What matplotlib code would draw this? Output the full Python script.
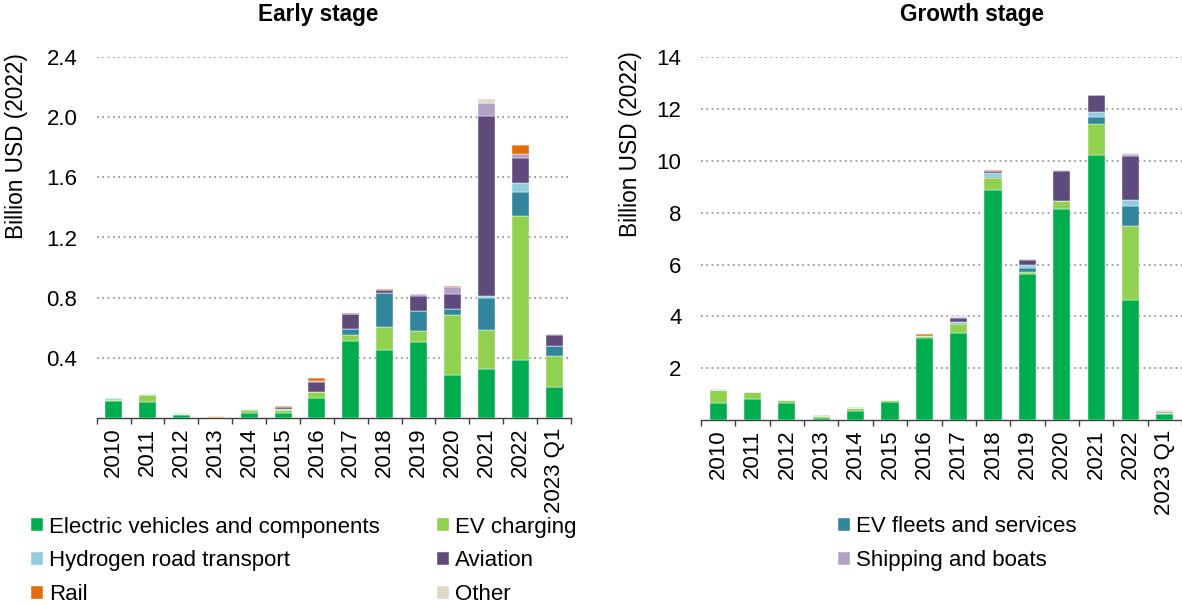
import numpy as np
import matplotlib
matplotlib.use("Agg")
import matplotlib.pyplot as plt
from matplotlib.ticker import FixedLocator, NullFormatter

plt.rcParams['font.family'] = ['Liberation Sans', 'DejaVu Sans']

periods = ["2010", "2011", "2012", "2013", "2014", "2015", "2016", "2017",
           "2018", "2019", "2020", "2021", "2022", "2023 Q1"]

series_names = ["Electric vehicles and components", "EV charging",
                "EV fleets and services", "Hydrogen road transport",
                "Aviation", "Shipping and boats", "Rail", "Other"]
series_colors = ["#00ae4f", "#92d050", "#31859c", "#92cddc",
                 "#604a7b", "#b2a2c7", "#e46c0a", "#ddd9c4"]

# Early stage, billion USD (2022)
early_ev = [0.113, 0.106, 0.020, 0.002, 0.033, 0.031, 0.130, 0.510, 0.454, 0.505, 0.286, 0.326, 0.383, 0.204]
early_charging = [0.007, 0.047, 0.009, 0.000, 0.018, 0.020, 0.045, 0.040, 0.151, 0.071, 0.397, 0.261, 0.962, 0.210]
early_fleets = [0.000, 0.000, 0.000, 0.000, 0.000, 0.005, 0.000, 0.044, 0.226, 0.138, 0.044, 0.213, 0.155, 0.065]
early_hydrogen = [0.010, 0.004, 0.000, 0.000, 0.006, 0.004, 0.000, 0.000, 0.003, 0.000, 0.000, 0.011, 0.060, 0.000]
early_aviation = [0.000, 0.000, 0.000, 0.000, 0.000, 0.015, 0.065, 0.100, 0.020, 0.100, 0.095, 1.197, 0.169, 0.071]
early_shipping = [0.005, 0.000, 0.000, 0.000, 0.000, 0.000, 0.005, 0.000, 0.000, 0.009, 0.049, 0.086, 0.026, 0.006]
early_rail = [0.000, 0.000, 0.000, 0.004, 0.000, 0.007, 0.018, 0.005, 0.005, 0.000, 0.009, 0.000, 0.062, 0.000]
early_other = [0.000, 0.000, 0.003, 0.004, 0.000, 0.000, 0.000, 0.000, 0.000, 0.000, 0.000, 0.025, 0.000, 0.000]

# Growth stage, billion USD (2022)
growth_ev = [0.67, 0.82, 0.67, 0.08, 0.36, 0.71, 3.15, 3.34, 8.87, 5.63, 8.14, 10.23, 4.63, 0.22]
growth_charging = [0.475, 0.26, 0.09, 0.06, 0.115, 0.05, 0.08, 0.36, 0.47, 0.09, 0.32, 1.20, 2.87, 0.04]
growth_fleets = [0, 0, 0, 0, 0, 0, 0, 0.04, 0.04, 0.13, 0, 0.28, 0.76, 0]
growth_hydrogen = [0, 0, 0, 0, 0, 0, 0, 0.05, 0.14, 0.13, 0, 0.16, 0.23, 0]
growth_aviation = [0, 0, 0, 0, 0, 0, 0, 0.16, 0.09, 0.21, 1.17, 0.68, 1.71, 0.03]
growth_shipping = [0.015, 0, 0, 0.04, 0, 0, 0.02, 0.03, 0, 0.02, 0.02, 0, 0.08, 0.06]
growth_rail = [0, 0, 0, 0, 0, 0, 0.06, 0, 0.04, 0, 0, 0, 0, 0]
growth_other = [0.02, 0.01, 0.01, 0, 0.025, 0, 0, 0.04, 0, 0, 0, 0, 0.03, 0.05]

early = [early_ev, early_charging, early_fleets, early_hydrogen,
         early_aviation, early_shipping, early_rail, early_other]
growth = [growth_ev, growth_charging, growth_fleets, growth_hydrogen,
          growth_aviation, growth_shipping, growth_rail, growth_other]

W, H = 1182, 606
fig = plt.figure(figsize=(W / 100, H / 100), dpi=100)


def px(x0, y0, x1, y1):
    """axes rect from pixel box (top-left origin)"""
    return [x0 / W, 1 - y1 / H, (x1 - x0) / W, (y1 - y0) / H]


def stacked(ax, data, ymax, yticks):
    x = np.arange(len(periods))
    bottom = np.zeros(len(periods))
    bars = []
    for vals, name, col in zip(data, series_names, series_colors):
        vals = np.array(vals, dtype=float)
        b = ax.bar(x, vals, width=0.5, bottom=bottom, color=col, label=name,
                   edgecolor="white", linewidth=0.3, zorder=3)
        bars.append(b)
        bottom += vals
    ax.set_xlim(-0.5, len(periods) - 0.5)
    ax.set_ylim(0, ymax)
    ax.set_yticks(yticks)
    ax.yaxis.grid(True, linestyle=(0, (1, 2.2)), color="#8a8a8a", linewidth=1.2, zorder=0)
    ax.set_axisbelow(True)
    for s in ["top", "right", "left"]:
        ax.spines[s].set_visible(False)
    ax.spines["bottom"].set_color("#404040")
    ax.spines["bottom"].set_linewidth(1.0)
    ax.set_xticks(x)
    ax.set_xticklabels(periods, rotation=90, va="top", ha="center")
    ax.xaxis.set_minor_locator(FixedLocator(np.arange(-0.5, len(periods), 1.0)))
    ax.xaxis.set_minor_formatter(NullFormatter())
    ax.tick_params(axis="x", which="major", length=0, pad=7, labelsize=16)
    ax.tick_params(axis="x", which="minor", length=4.5, width=1.0, color="#404040")
    ax.tick_params(axis="y", length=0, pad=14, labelsize=16)
    return bars


ax1 = fig.add_axes(px(96.7, 57, 571, 418))
bars = stacked(ax1, early, 2.4, [0.4, 0.8, 1.2, 1.6, 2.0, 2.4])
ax1.set_yticklabels(["0.4", "0.8", "1.2", "1.6", "2.0", "2.4"])

ax2 = fig.add_axes(px(701, 57.3, 1182, 420))
stacked(ax2, growth, 14, [2, 4, 6, 8, 10, 12, 14])

fig.text(318 / W, 1 - 15 / H, "Early stage", ha="center", va="center",
         fontsize=16.3, fontweight="bold")
fig.text(972 / W, 1 - 15 / H, "Growth stage", ha="center", va="center",
         fontsize=16.3, fontweight="bold")
fig.text(17 / W, 1 - 146 / H, "Billion USD (2022)", rotation=90,
         ha="center", va="center", fontsize=16.3)
fig.text(630 / W, 1 - 144 / H, "Billion USD (2022)", rotation=90,
         ha="center", va="center", fontsize=16.3)

# legend laid out as three columns, read row-wise
columns = [[0, 3, 6], [1, 4, 7], [2, 5]]
col_x = [31, 437, 838]
for idxs, cx in zip(columns, col_x):
    fig.legend([bars[i] for i in idxs], [series_names[i] for i in idxs],
               loc="upper left", bbox_to_anchor=(cx / W, 1 - 516.5 / H),
               frameon=False, fontsize=16, handlelength=0.55, handleheight=0.55,
               handletextpad=0.25, labelspacing=0.58, borderpad=0,
               borderaxespad=0)

fig.savefig("out.png", dpi=100)
